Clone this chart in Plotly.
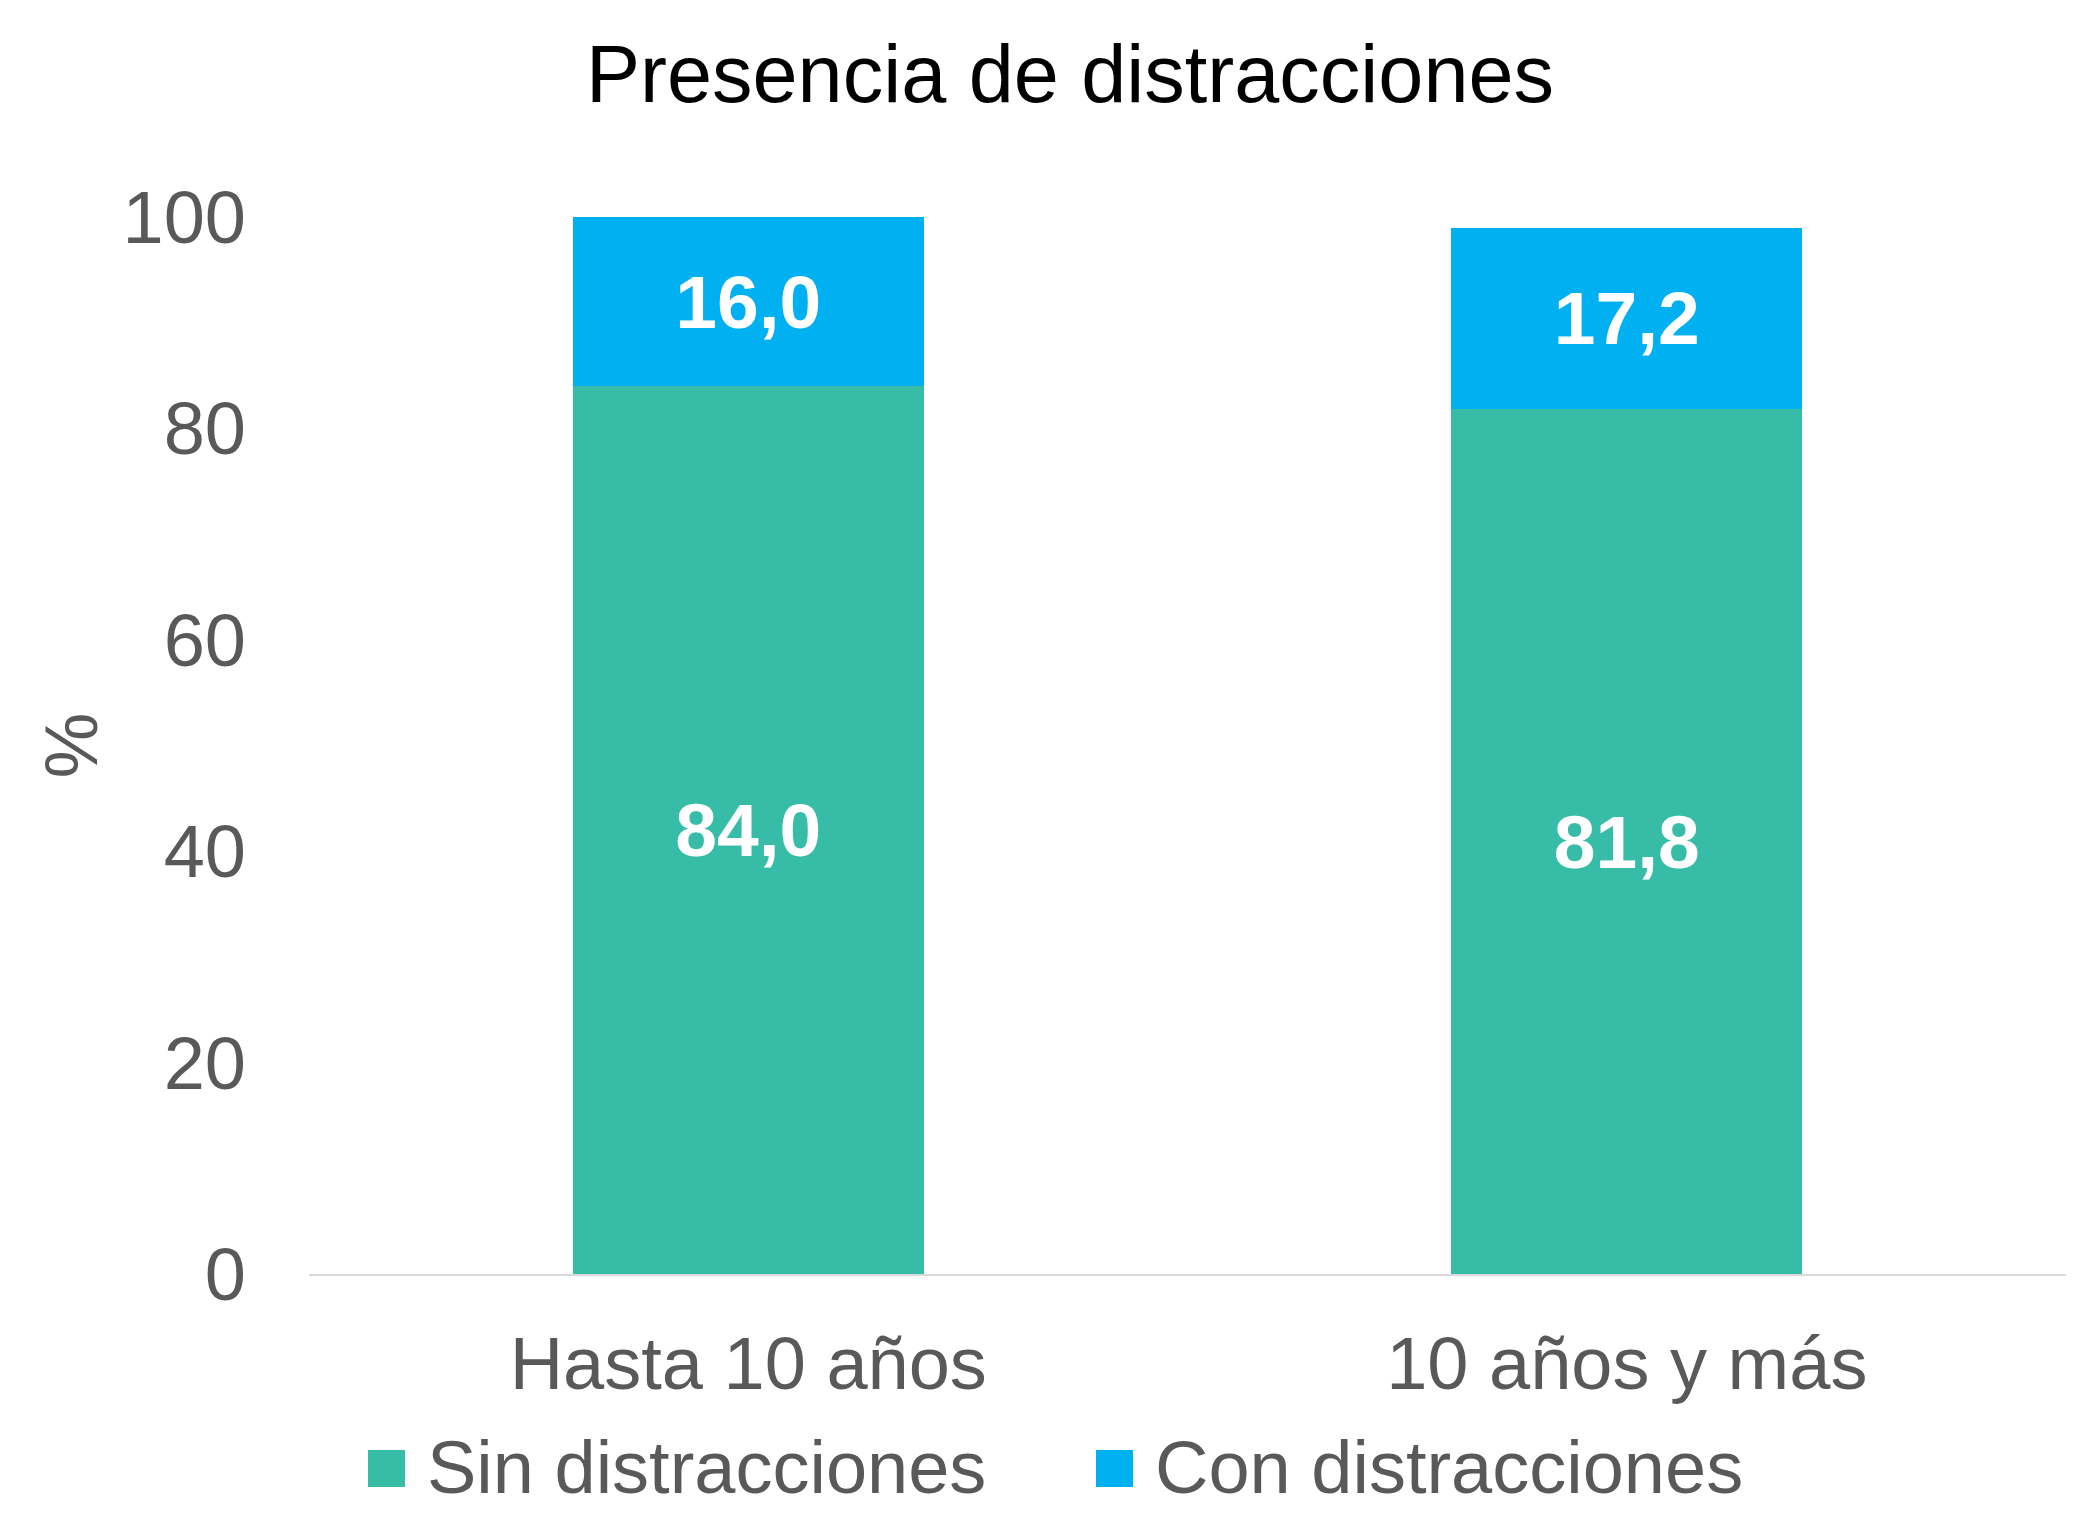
import plotly.graph_objects as go

categories = ["Hasta 10 años", "10 años y más"]
series_names = ["Sin distracciones", "Con distracciones"]
sin_distracciones = [84.0, 81.8]
con_distracciones = [16.0, 17.2]
series_values = [sin_distracciones, con_distracciones]
colors = ["#37BCA7", "#00B0F0"]
y_ticks = [0, 20, 40, 60, 80, 100]

W, H = 2076, 1513
L, R, T, B = 309, 10, 217, 239
PW, PH = W - L - R, H - T - B

FONT = "Liberation Sans, Arial, sans-serif"
GREY = "#595959"

fig = go.Figure()
for name, vals, col in zip(series_names, series_values, colors):
    fig.add_trace(go.Bar(
        x=categories, y=vals, name=name, marker_color=col,
        marker_line_width=0,
        texttemplate="<b>%{y:.1f}</b>", textposition="inside",
        insidetextanchor="middle",
        textfont=dict(color="white", size=75, family=FONT),
        showlegend=False,
    ))

def px2paper_x(px):
    return (px - L) / PW

def px2paper_y(py):
    return (H - B - py) / PH

# manual legend (larger swatches than Plotly's fixed legend icons)
legend_sq_x = [368, 1096]
legend_txt_x = [425, 1153]
sq_top, sq_bot, txt_y = 1450, 1487, 1467
shapes = []
annotations = []
for name, col, sx, tx in zip(series_names, colors, legend_sq_x, legend_txt_x):
    shapes.append(dict(type="rect", xref="paper", yref="paper",
                       x0=px2paper_x(sx), x1=px2paper_x(sx + 37),
                       y0=px2paper_y(sq_bot), y1=px2paper_y(sq_top),
                       fillcolor=col, line=dict(width=0)))
    annotations.append(dict(text=name, xref="paper", yref="paper",
                            x=px2paper_x(tx), y=px2paper_y(txt_y),
                            xanchor="left", yanchor="middle", showarrow=False,
                            font=dict(size=74, color=GREY, family=FONT)))

fig.update_layout(
    width=W, height=H,
    margin=dict(l=L, r=R, t=T, b=B, autoexpand=False),
    paper_bgcolor="white", plot_bgcolor="white",
    barmode="stack", bargap=0.6,
    separators=",.",
    font=dict(family=FONT, color=GREY),
    title=dict(text="Presencia de distracciones", x=1070 / W, xref="container",
               xanchor="center", y=1 - 74 / H, yref="container", yanchor="middle",
               font=dict(size=81, color="black", family=FONT)),
    xaxis=dict(showline=True, linecolor="#D9D9D9", linewidth=2,
               showgrid=False, ticks="", ticklabelstandoff=24,
               tickfont=dict(size=74, color=GREY, family=FONT)),
    yaxis=dict(range=[0, 100], tickvals=y_ticks, showgrid=False,
               showline=False, zeroline=False, ticks="",
               ticklabelstandoff=62,
               tickfont=dict(size=74, color=GREY, family=FONT),
               title=dict(text="%", standoff=0,
                          font=dict(size=74, color=GREY, family=FONT))),
    shapes=shapes, annotations=annotations,
)

fig.write_html("out.html")
